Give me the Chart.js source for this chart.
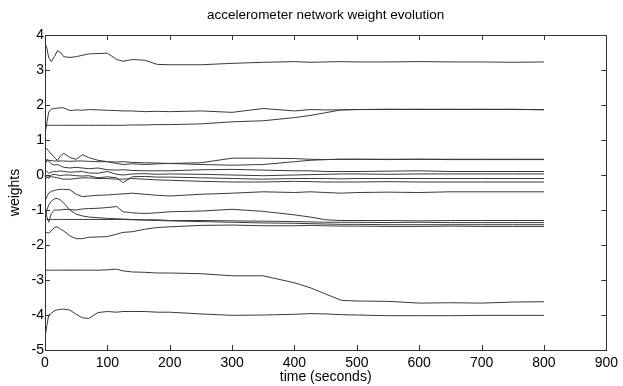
<!DOCTYPE html>
<html>
<head>
<meta charset="utf-8">
<script src="https://cdn.jsdelivr.net/npm/chart.js@4/dist/chart.umd.min.js"></script>
<style>
  html, body { margin: 0; padding: 0; background: #fff; }
  #wrap { width: 623px; height: 386px; position: relative; }
</style>
</head>
<body>
<div id="wrap"><canvas id="weightChart"></canvas></div>
<script>
// sample times (seconds)
const time = [0,3,6,10,15,20,25,30,40,50,60,70,85,100,115,125,140,160,180,200,250,300,350,400,425,450,475,500,550,600,650,700,750,800];

// weight traces, one value per sample time
const w01 = [3.78,3.62,3.35,3.24,3.38,3.55,3.5,3.38,3.36,3.38,3.42,3.46,3.47,3.48,3.3,3.25,3.3,3.28,3.16,3.15,3.15,3.19,3.22,3.24,3.22,3.23,3.24,3.23,3.23,3.24,3.23,3.23,3.22,3.23];
const w02 = [1.15,1.5,1.8,1.88,1.9,1.91,1.92,1.92,1.84,1.86,1.85,1.87,1.86,1.85,1.84,1.83,1.83,1.81,1.82,1.81,1.83,1.79,1.9,1.83,1.87,1.86,1.86,1.87,1.88,1.87,1.88,1.87,1.88,1.86];
const w03 = [1.42,1.42,1.42,1.42,1.42,1.42,1.42,1.42,1.42,1.42,1.42,1.42,1.42,1.42,1.42,1.42,1.43,1.43,1.44,1.44,1.46,1.52,1.55,1.64,1.7,1.78,1.86,1.87,1.87,1.88,1.87,1.88,1.87,1.87];
const w04 = [0.8,0.75,0.68,0.6,0.5,0.42,0.55,0.62,0.5,0.45,0.58,0.5,0.42,0.38,0.33,0.3,0.32,0.3,0.32,0.33,0.35,0.48,0.48,0.47,0.45,0.44,0.45,0.45,0.45,0.45,0.45,0.45,0.45,0.45];
const w05 = [0.3,0.42,0.42,0.41,0.4,0.4,0.4,0.4,0.39,0.4,0.4,0.39,0.38,0.38,0.37,0.38,0.36,0.35,0.34,0.33,0.3,0.28,0.3,0.38,0.42,0.44,0.45,0.45,0.44,0.45,0.44,0.44,0.44,0.44];
const w06 = [0.3,0.45,0.4,0.32,0.28,0.3,0.26,0.22,0.2,0.22,0.2,0.18,0.2,0.15,0.14,0.15,0.13,0.12,0.12,0.12,0.15,0.16,0.14,0.12,0.12,0.1,0.1,0.1,0.11,0.12,0.1,0.1,0.1,0.1];
const w07 = [0.15,0.1,0.05,0.08,0.1,0.1,0.12,0.1,0.08,0.09,0.1,0.06,0.05,0.1,0.02,0,0.03,0.04,0.02,0.03,0.02,0,-0.02,0,0.01,0.02,0.03,0.03,0.02,0.03,0.03,0.03,0.03,0.03];
const w08 = [0,-0.05,-0.1,0,0.02,0,-0.02,0,0,-0.02,-0.03,-0.02,-0.08,-0.05,-0.08,-0.22,-0.05,-0.04,-0.06,-0.06,-0.08,-0.1,-0.12,-0.1,-0.1,-0.1,-0.11,-0.1,-0.1,-0.1,-0.1,-0.1,-0.1,-0.1];
const w09 = [-0.1,-0.08,-0.05,-0.05,-0.06,-0.08,-0.1,-0.12,-0.12,-0.1,-0.08,-0.08,-0.1,-0.1,-0.12,-0.12,-0.1,-0.12,-0.14,-0.15,-0.18,-0.2,-0.2,-0.18,-0.19,-0.2,-0.2,-0.2,-0.19,-0.2,-0.2,-0.2,-0.2,-0.2];
const w10 = [-0.75,-0.62,-0.52,-0.47,-0.44,-0.42,-0.41,-0.41,-0.42,-0.55,-0.62,-0.6,-0.58,-0.57,-0.55,-0.54,-0.52,-0.55,-0.58,-0.6,-0.55,-0.52,-0.48,-0.5,-0.48,-0.5,-0.52,-0.5,-0.49,-0.5,-0.48,-0.48,-0.48,-0.48];
const w11 = [-1.05,-1.2,-1.35,-1.1,-1,-1,-1,-0.98,-0.99,-1,-0.97,-0.96,-0.95,-0.93,-0.9,-1.05,-1.08,-1.1,-1.08,-1.05,-1.03,-0.98,-1.04,-1.14,-1.2,-1.28,-1.3,-1.3,-1.3,-1.31,-1.3,-1.3,-1.3,-1.3];
const w12 = [-1.3,-1,-0.85,-0.75,-0.68,-0.67,-0.72,-0.8,-1,-1.12,-1.17,-1.2,-1.22,-1.24,-1.25,-1.26,-1.27,-1.28,-1.28,-1.3,-1.3,-1.31,-1.32,-1.33,-1.34,-1.35,-1.35,-1.35,-1.36,-1.35,-1.36,-1.36,-1.36,-1.36];
const w13 = [-1.27,-1.27,-1.27,-1.27,-1.27,-1.27,-1.27,-1.27,-1.27,-1.27,-1.27,-1.27,-1.27,-1.27,-1.27,-1.27,-1.28,-1.29,-1.3,-1.31,-1.33,-1.35,-1.37,-1.38,-1.39,-1.4,-1.41,-1.41,-1.42,-1.42,-1.42,-1.42,-1.42,-1.42];
const w14 = [-1.62,-1.65,-1.66,-1.6,-1.5,-1.48,-1.55,-1.6,-1.74,-1.82,-1.82,-1.78,-1.77,-1.76,-1.69,-1.64,-1.62,-1.55,-1.5,-1.48,-1.44,-1.43,-1.45,-1.45,-1.44,-1.45,-1.46,-1.46,-1.47,-1.47,-1.46,-1.47,-1.47,-1.47];
const w15 = [-2.72,-2.72,-2.72,-2.72,-2.72,-2.72,-2.72,-2.72,-2.72,-2.72,-2.72,-2.72,-2.72,-2.71,-2.69,-2.74,-2.77,-2.78,-2.8,-2.8,-2.82,-2.88,-2.88,-3.08,-3.22,-3.4,-3.58,-3.6,-3.61,-3.66,-3.65,-3.66,-3.63,-3.62];
const w16 = [-4.65,-4.3,-4,-3.95,-3.88,-3.85,-3.84,-3.83,-3.86,-3.98,-4.08,-4.1,-3.93,-3.9,-3.92,-3.9,-3.9,-3.9,-3.92,-3.92,-3.97,-4.01,-4,-3.98,-3.96,-3.97,-3.99,-4,-4.02,-4.02,-4.02,-4.01,-4.01,-4.01];

const traces = [w01,w02,w03,w04,w05,w06,w07,w08,w09,w10,w11,w12,w13,w14,w15,w16];
const xTicks = [0,100,200,300,400,500,600,700,800,900];
const yTicks = [-5,-4,-3,-2,-1,0,1,2,3,4];

const FONT = 'Arial, "Liberation Sans", sans-serif';

// matlab-ish box with inward ticks on all four sides
const boxTicks = {
  id: 'boxTicks',
  afterDraw(chart) {
    const { ctx, chartArea: a, scales: { x, y } } = chart;
    const len = 5;
    ctx.save();
    ctx.strokeStyle = '#333';
    ctx.lineWidth = 1;
    ctx.beginPath();
    xTicks.forEach(v => {
      const px = Math.round(x.getPixelForValue(v)) + 0.5;
      ctx.moveTo(px, a.bottom); ctx.lineTo(px, a.bottom - len);
      ctx.moveTo(px, a.top); ctx.lineTo(px, a.top + len);
    });
    yTicks.forEach(v => {
      const py = Math.round(y.getPixelForValue(v)) + 0.5;
      ctx.moveTo(a.left, py); ctx.lineTo(a.left + len, py);
      ctx.moveTo(a.right, py); ctx.lineTo(a.right - len, py);
    });
    ctx.stroke();
    ctx.strokeRect(Math.round(a.left) + 0.5, Math.round(a.top) + 0.5,
      Math.round(a.right - a.left), Math.round(a.bottom - a.top));
    ctx.restore();
  }
};

new Chart(document.getElementById('weightChart'), {
  type: 'line',
  data: {
    datasets: traces.map(vals => ({
      data: time.map((t, i) => ({ x: t, y: vals[i] })),
      borderColor: '#3a3a3a', borderWidth: 1, pointRadius: 0, tension: 0, fill: false
    }))
  },
  options: {
    responsive: true, maintainAspectRatio: false, animation: false,
    layout: { padding: { left: 0, right: 14, top: 0, bottom: 0 } },
    plugins: {
      legend: { display: false },
      tooltip: { enabled: false },
      title: {
        display: true, fullSize: false, text: 'accelerometer network weight evolution',
        color: '#000', font: { family: FONT, size: 13.5, weight: 'normal' },
        padding: { top: 7, bottom: 11.8 }
      }
    },
    scales: {
      x: {
        type: 'linear', min: 0, max: 900,
        afterBuildTicks: s => { s.ticks = xTicks.map(v => ({ value: v })); },
        afterFit: s => { s.height = 36; },
        grid: { display: false, drawTicks: false },
        border: { display: false },
        ticks: { color: '#000', font: { family: FONT, size: 14 }, padding: 5, maxRotation: 0 },
        title: { display: true, text: 'time (seconds)', color: '#000',
          font: { family: FONT, size: 14 }, padding: { top: 0, bottom: 0 } }
      },
      y: {
        type: 'linear', min: -5, max: 4,
        afterBuildTicks: s => { s.ticks = yTicks.map(v => ({ value: v })); },
        afterFit: s => { s.width = 45; },
        grid: { display: false, drawTicks: false },
        border: { display: false },
        ticks: { color: '#000', font: { family: FONT, size: 14 }, padding: 1 },
        title: { display: true, text: 'weights', color: '#000',
          font: { family: FONT, size: 14 }, padding: { top: 7, bottom: 0 } }
      }
    }
  },
  plugins: [boxTicks]
});
</script>
</body>
</html>
